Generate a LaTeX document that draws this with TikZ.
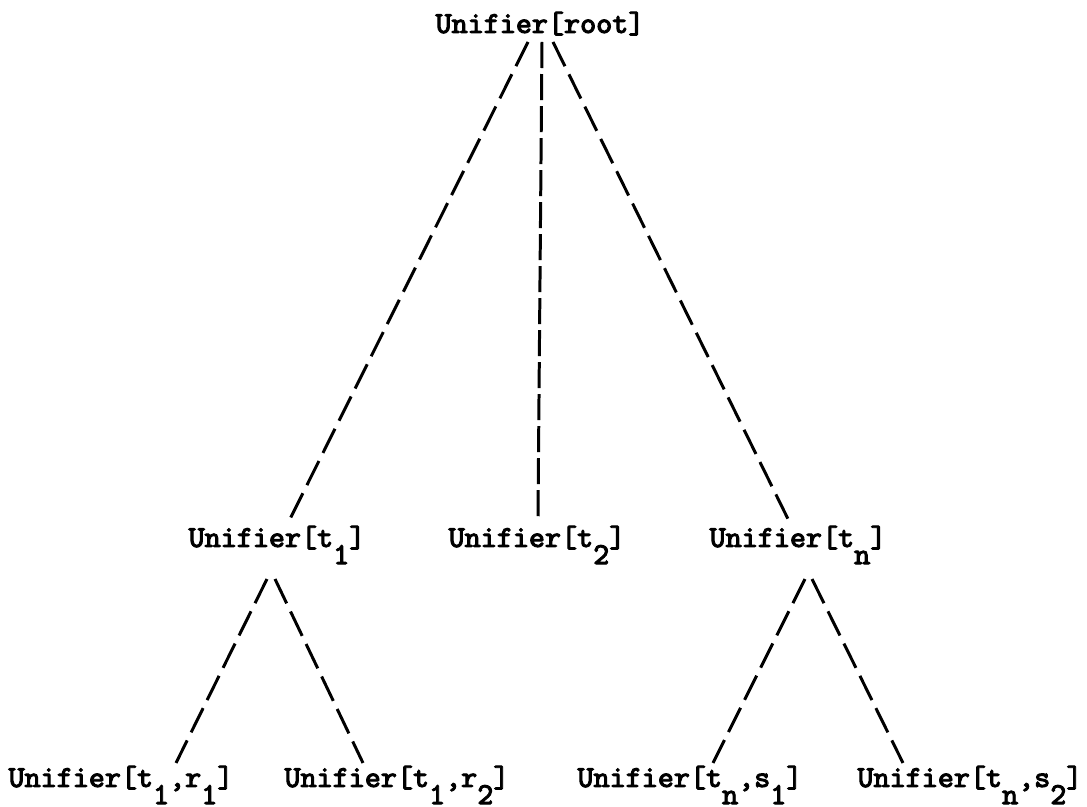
\documentclass[tikz,border=0pt]{standalone}
\usepackage{fontspec}
\setmonofont[FakeBold=3]{Latin Modern Mono}
\usetikzlibrary{calc}

\newcommand{\tsub}[1]{\raisebox{-0.56em}{#1}}

\begin{document}
\begin{tikzpicture}[
  x=0.01cm, y=-0.01cm,
  every node/.style={font=\ttfamily\fontsize{8.7}{10}\selectfont,
                     inner sep=0pt, outer sep=0pt, anchor=base},
  un/.style={text height=0.19cm, text depth=0.06cm},
  unsub/.style={text height=0.19cm, text depth=0.22cm},
  link/.style={black, line width=0.85pt, dash pattern=on 0.27cm off 0.09cm},
  vlink/.style={black, line width=0.85pt, dash pattern=on 0.26cm off 0.06cm},
]
  \fill[white] (0,0) rectangle (1087,807);
  \useasboundingbox (0,0) rectangle (1087,807);

  % Root
  \node[un] (root) at (540,33) {Unifier[root]};

  % Second level
  \node[unsub] (t1) at (277,547) {Unifier[t\tsub{1}]};
  \node[unsub] (t2) at (537,547) {Unifier[t\tsub{2}]};
  \node[unsub] (tn) at (798,547) {Unifier[t\tsub{n}]};

  % Leaves
  \node[unsub] (t1r1) at (121,787) {Unifier[t\tsub{1},r\tsub{1}]};
  \node[unsub] (t1r2) at (397,787) {Unifier[t\tsub{1},r\tsub{2}]};
  \node[unsub] (tns1) at (690,787) {Unifier[t\tsub{n},s\tsub{1}]};
  \node[unsub] (tns2) at (970,787) {Unifier[t\tsub{n},s\tsub{2}]};

  % Dashed links
  \draw[link]  ($(root.south)+(-12,3)$) -- ($(t1.north)+(13,-9)$);
  \draw[vlink] ($(root.south)+(2,3)$)   -- ($(t2.north)+(1,-11)$);
  \draw[link]  ($(root.south)+(13,3)$)  -- ($(tn.north)+(-10,-9)$);

  \draw[link] ($(t1.south)+(-10,10)$) -- ($(t1r1.north)+(55,-5)$);
  \draw[link] ($(t1.south)+(-2,10)$)  -- ($(t1r2.north)+(-34,-5)$);
  \draw[link] ($(tn.south)+(7,10)$)   -- ($(tns1.north)+(23,-5)$);
  \draw[link] ($(tn.south)+(14,10)$)  -- ($(tns2.north)+(-67,-5)$);
\end{tikzpicture}
\end{document}
